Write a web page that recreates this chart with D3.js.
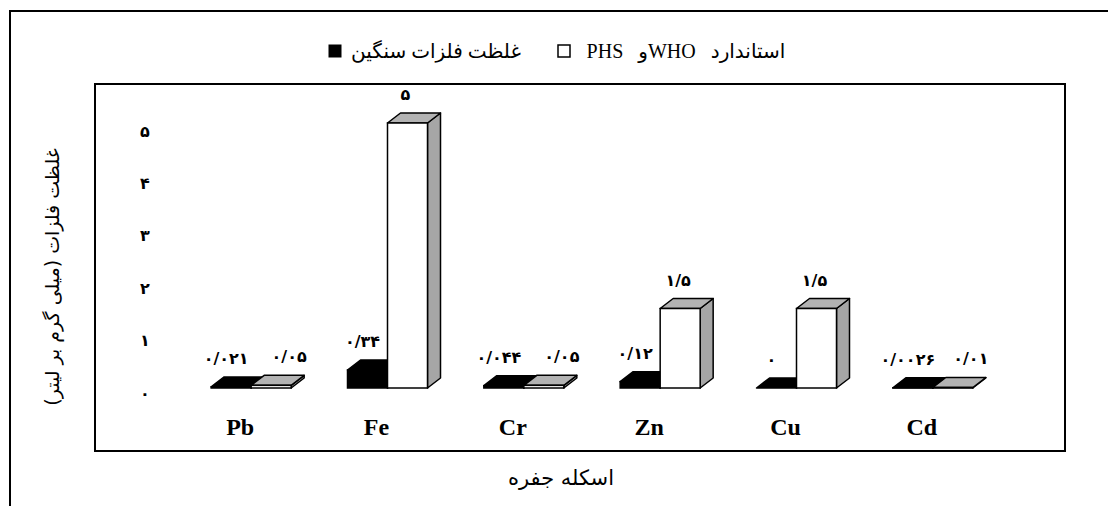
<!DOCTYPE html>
<html><head><meta charset="utf-8">
<script src="https://cdn.jsdelivr.net/npm/d3@7"></script>
<style>
html,body{margin:0;padding:0;background:#fff;}
svg{display:block;}
</style>
</head><body>
<svg id="chart" width="1108" height="506"></svg>
<script>
const categories = ["Pb","Fe","Cr","Zn","Cu","Cd"];
const metalConc = [0.021, 0.34, 0.044, 0.12, 0, 0.0026];
const standardVals = [0.05, 5, 0.05, 1.5, 1.5, 0.01];
const yTicks = [0,1,2,3,4,5];
const seriesNames = ["غلظت فلزات سنگین", "استاندارد WHOو PHS"];
const yTitle = "غلظت فلزات (میلی گرم بر لیتر)";
const xTitle = "اسکله جفره";

const fa = s => String(s).replace('.', '/').replace(/[0-9]/g, d => "۰۱۲۳۴۵۶۷۸۹"[+d]);
const faFont = "'DejaVu Sans', sans-serif";
const serif = "'Liberation Serif', 'DejaVu Sans', serif";

const svg = d3.select("#chart");
// outer frame
svg.append("rect").attr("x",10).attr("y",11).attr("width",1300).attr("height",700)
  .attr("fill","none").attr("stroke","#000").attr("stroke-width",2);
// inner plot frame
svg.append("rect").attr("x",95).attr("y",84).attr("width",970).attr("height",367)
  .attr("fill","none").attr("stroke","#000").attr("stroke-width",2);

const x = d3.scaleBand().domain(categories).range([183, 1001]);
const y = d3.scaleLinear().domain([0,5]).range([388, 123]);
const yAxisScale = d3.scaleLinear().domain([0,5]).range([393, 131]);
const bw = 40, dx = 13, dy = -10;

function bar(g, L, v, front, top, side){
  const y0 = y(0), y1 = y(v);
  g.append("polygon").attr("points", [[L+bw,y1],[L+bw+dx,y1+dy],[L+bw+dx,y0+dy],[L+bw,y0]].join(" "))
    .attr("fill", side).attr("stroke","#000").attr("stroke-width",1.5).attr("stroke-linejoin","round");
  g.append("polygon").attr("points", [[L,y1],[L+dx,y1+dy],[L+bw+dx,y1+dy],[L+bw,y1]].join(" "))
    .attr("fill", top).attr("stroke","#000").attr("stroke-width",1.5).attr("stroke-linejoin","round");
  g.append("rect").attr("x",L).attr("y",y1).attr("width",bw).attr("height",Math.max(0,y0-y1))
    .attr("fill", front).attr("stroke","#000").attr("stroke-width",1.5);
}

const bars = svg.append("g");
categories.forEach((c,i) => {
  const mid = x(c) + x.bandwidth()/2;
  bar(bars, mid - bw, metalConc[i], "#000", "#000", "#000");
  bar(bars, mid, standardVals[i], "#fff", "#b3b3b3", "#a6a6a6");
});

// value labels
const lab = svg.append("g").attr("font-family", faFont).attr("font-weight","bold")
  .attr("font-size",16).attr("text-anchor","middle").attr("fill","#000");
categories.forEach((c,i) => {
  const mid = x(c) + x.bandwidth()/2;
  lab.append("text").attr("x", mid - 25).attr("y", y(metalConc[i]) + dy - 13)
    .attr("direction","ltr").text(fa(metalConc[i]));
  const v = standardVals[i];
  lab.append("text").attr("x", mid + (v < 0.2 ? 38 : 18)).attr("y", y(v) + dy - 13)
    .attr("direction","ltr").text(fa(v));
});

// y tick labels
const yt = svg.append("g").attr("font-family", faFont).attr("font-weight","bold")
  .attr("font-size",16).attr("text-anchor","middle");
yTicks.forEach(t => {
  yt.append("text").attr("x",145).attr("y", yAxisScale(t)).attr("dy","0.35em").text(fa(t));
});

// x category labels
const xl = svg.append("g").attr("font-family", serif).attr("font-weight","bold")
  .attr("font-size",24).attr("text-anchor","middle");
categories.forEach(c => {
  xl.append("text").attr("x", x(c) + x.bandwidth()/2 - 11).attr("y", 435).text(c);
});

// y title
svg.append("text").attr("transform","translate(52,277) rotate(-90)")
  .attr("text-anchor","middle").attr("direction","rtl").attr("dy","0.35em")
  .attr("font-family", faFont).attr("font-size",19).text(yTitle);

// x title
svg.append("text").attr("x",561).attr("y",478).attr("dy","0.35em")
  .attr("text-anchor","middle").attr("direction","rtl")
  .attr("font-family", faFont).attr("font-size",21).text(xTitle);

// legend
const lg = svg.append("g");
lg.append("rect").attr("x",329).attr("y",45).attr("width",12).attr("height",12)
  .attr("fill","#000").attr("stroke","#000");
lg.append("text").attr("x",436).attr("y",51).attr("dy","0.35em").attr("text-anchor","middle")
  .attr("direction","rtl").attr("font-family", serif).attr("font-size",20).text(seriesNames[0]);
lg.append("rect").attr("x",558).attr("y",45).attr("width",12).attr("height",12)
  .attr("fill","#fff").attr("stroke","#000").attr("stroke-width",1.5);
lg.append("text").attr("x",686).attr("y",51).attr("dy","0.35em").attr("text-anchor","middle")
  .attr("direction","rtl").attr("font-family", serif).attr("font-size",20)
  .attr("word-spacing",10).text(seriesNames[1]);
</script>
</body></html>
